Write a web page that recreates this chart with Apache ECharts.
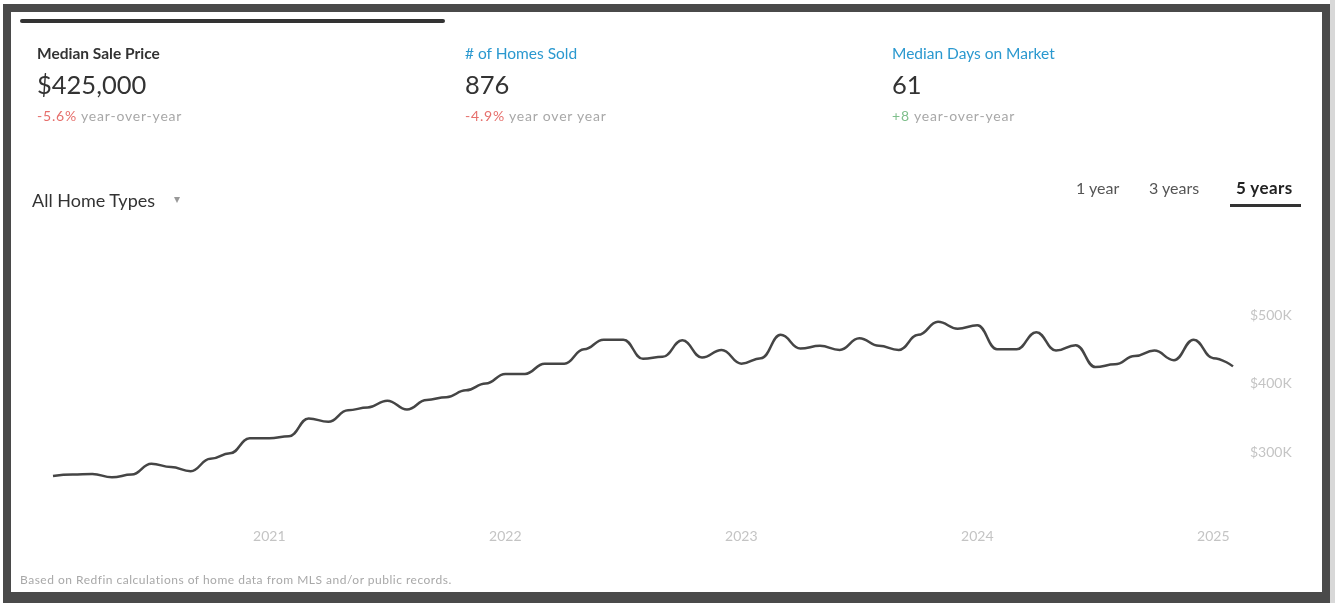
<!DOCTYPE html>
<html><head><meta charset="utf-8">
<script src="https://cdn.jsdelivr.net/npm/echarts@6/dist/echarts.min.js"></script>
<style>
html,body{margin:0;padding:0;width:1335px;height:603px;overflow:hidden;background:#fff;font-family:Lato,"Noto Sans",sans-serif;}
#frame{position:absolute;left:3px;top:4px;width:1311px;height:580px;border-style:solid;border-color:#4a4a4a;border-width:8px 8px 11px 8px;background:#fff;}
#edge{position:absolute;left:1330px;top:0;width:5px;height:603px;background:#d8d8d8;}
#chart{position:absolute;left:0;top:0;width:1335px;height:603px;}
.t{position:absolute;white-space:nowrap;line-height:1;}
#tabbar{position:absolute;left:20px;top:19px;width:425px;height:4px;background:#333;border-radius:2px;}
#ul{position:absolute;left:1230px;top:204px;width:71px;height:3px;background:#333;}
</style></head>
<body>
<div id="frame"></div>
<div id="edge"></div>
<div id="chart"></div>
<div id="tabbar"></div>
<div class="t" style="left:37px;top:46px;font-size:15.5px;font-weight:700;color:#333;">Median Sale Price</div>
<div class="t" style="left:37px;top:72px;font-size:25.5px;color:#333;">$425,000</div>
<div class="t" style="left:37px;top:109px;font-size:14px;letter-spacing:0.8px;color:#a8a8a8;"><span style="color:#e66f6c">-5.6%</span> year-over-year</div>
<div class="t" style="left:465px;top:46px;font-size:15.5px;color:#2a98cf;">&#35; of Homes Sold</div>
<div class="t" style="left:465px;top:72px;font-size:25.5px;color:#333;">876</div>
<div class="t" style="left:465px;top:109px;font-size:14px;letter-spacing:0.8px;color:#a8a8a8;"><span style="color:#e66f6c">-4.9%</span> year over year</div>
<div class="t" style="left:892px;top:46px;font-size:15.5px;color:#2a98cf;">Median Days on Market</div>
<div class="t" style="left:892px;top:72px;font-size:25.5px;color:#333;">61</div>
<div class="t" style="left:892px;top:109px;font-size:14px;letter-spacing:0.8px;color:#a8a8a8;"><span style="color:#7fbf8c">+8</span> year-over-year</div>
<div class="t" style="left:32px;top:191px;font-size:18px;color:#333;">All Home Types</div>
<div class="t" style="left:174px;top:193px;font-size:12px;color:#999;">&#9662;</div>
<div class="t" style="left:1076px;top:180px;font-size:16px;color:#555;">1 year</div>
<div class="t" style="left:1149px;top:180px;font-size:16px;color:#555;">3 years</div>
<div class="t" style="left:1236px;top:179px;font-size:17px;letter-spacing:0.4px;font-weight:700;color:#222;">5 years</div>
<div id="ul"></div>
<div class="t" style="left:20px;top:574px;font-size:12px;letter-spacing:0.5px;color:#a8a8a8;">Based on Redfin calculations of home data from MLS and/or public records.</div>
<script>
var months = ['2020-02','2020-03','2020-04','2020-05','2020-06','2020-07','2020-08','2020-09','2020-10','2020-11','2020-12',
'2021-01','2021-02','2021-03','2021-04','2021-05','2021-06','2021-07','2021-08','2021-09','2021-10','2021-11','2021-12',
'2022-01','2022-02','2022-03','2022-04','2022-05','2022-06','2022-07','2022-08','2022-09','2022-10','2022-11','2022-12',
'2023-01','2023-02','2023-03','2023-04','2023-05','2023-06','2023-07','2023-08','2023-09','2023-10','2023-11','2023-12',
'2024-01','2024-02','2024-03','2024-04','2024-05','2024-06','2024-07','2024-08','2024-09','2024-10','2024-11','2024-12',
'2025-01','2025-02'];
var medianPrice = [265000,267000,268000,263000,267000,283000,278000,272000,290000,298000,320000,
320000,323000,349000,344000,361000,365000,375000,362000,376000,380000,390000,400000,
414000,414000,429000,429000,450000,464000,464000,436000,439000,463000,438000,449000,
429000,437000,471000,451000,455000,449000,466000,455000,449000,471000,490000,480000,
485000,450000,450000,475000,448000,456000,424000,428000,440000,448000,434000,464000,
437000,425000];
var yTicks = [200000,300000,400000,500000];
var yTickLabels = ['','$300K','$400K','$500K'];

var chart = echarts.init(document.getElementById('chart'), null, {renderer:'canvas'});
chart.setOption({
  backgroundColor:'transparent',
  animation:false,
  grid:{left:53,right:102,top:315,bottom:82.5},
  xAxis:{
    type:'category',
    data:months,
    boundaryGap:false,
    axisLine:{show:false},
    axisTick:{show:false},
    splitLine:{show:false},
    axisLabel:{
      interval:function(i,v){return v.slice(5)==='01';},
      formatter:function(v){return v.slice(0,4);},
      color:'#c4c4c4',
      fontSize:14,
      fontFamily:'Lato',
      margin:9
    }
  },
  yAxis:{
    type:'value',
    position:'right',
    min:yTicks[0],
    max:yTicks[yTicks.length-1],
    interval:100000,
    axisLine:{show:false},
    axisTick:{show:false},
    splitLine:{show:false},
    axisLabel:{
      formatter:function(v){var k=yTicks.indexOf(v);return k>=0?yTickLabels[k]:'';},
      color:'#c4c4c4',
      fontSize:14,
      fontFamily:'Lato',
      margin:17
    }
  },
  series:[{
    type:'line',
    data:medianPrice,
    smooth:0.45,
    smoothMonotone:'x',
    showSymbol:false,
    lineStyle:{color:'#454545',width:2.5}
  }]
});
</script>
</body></html>
